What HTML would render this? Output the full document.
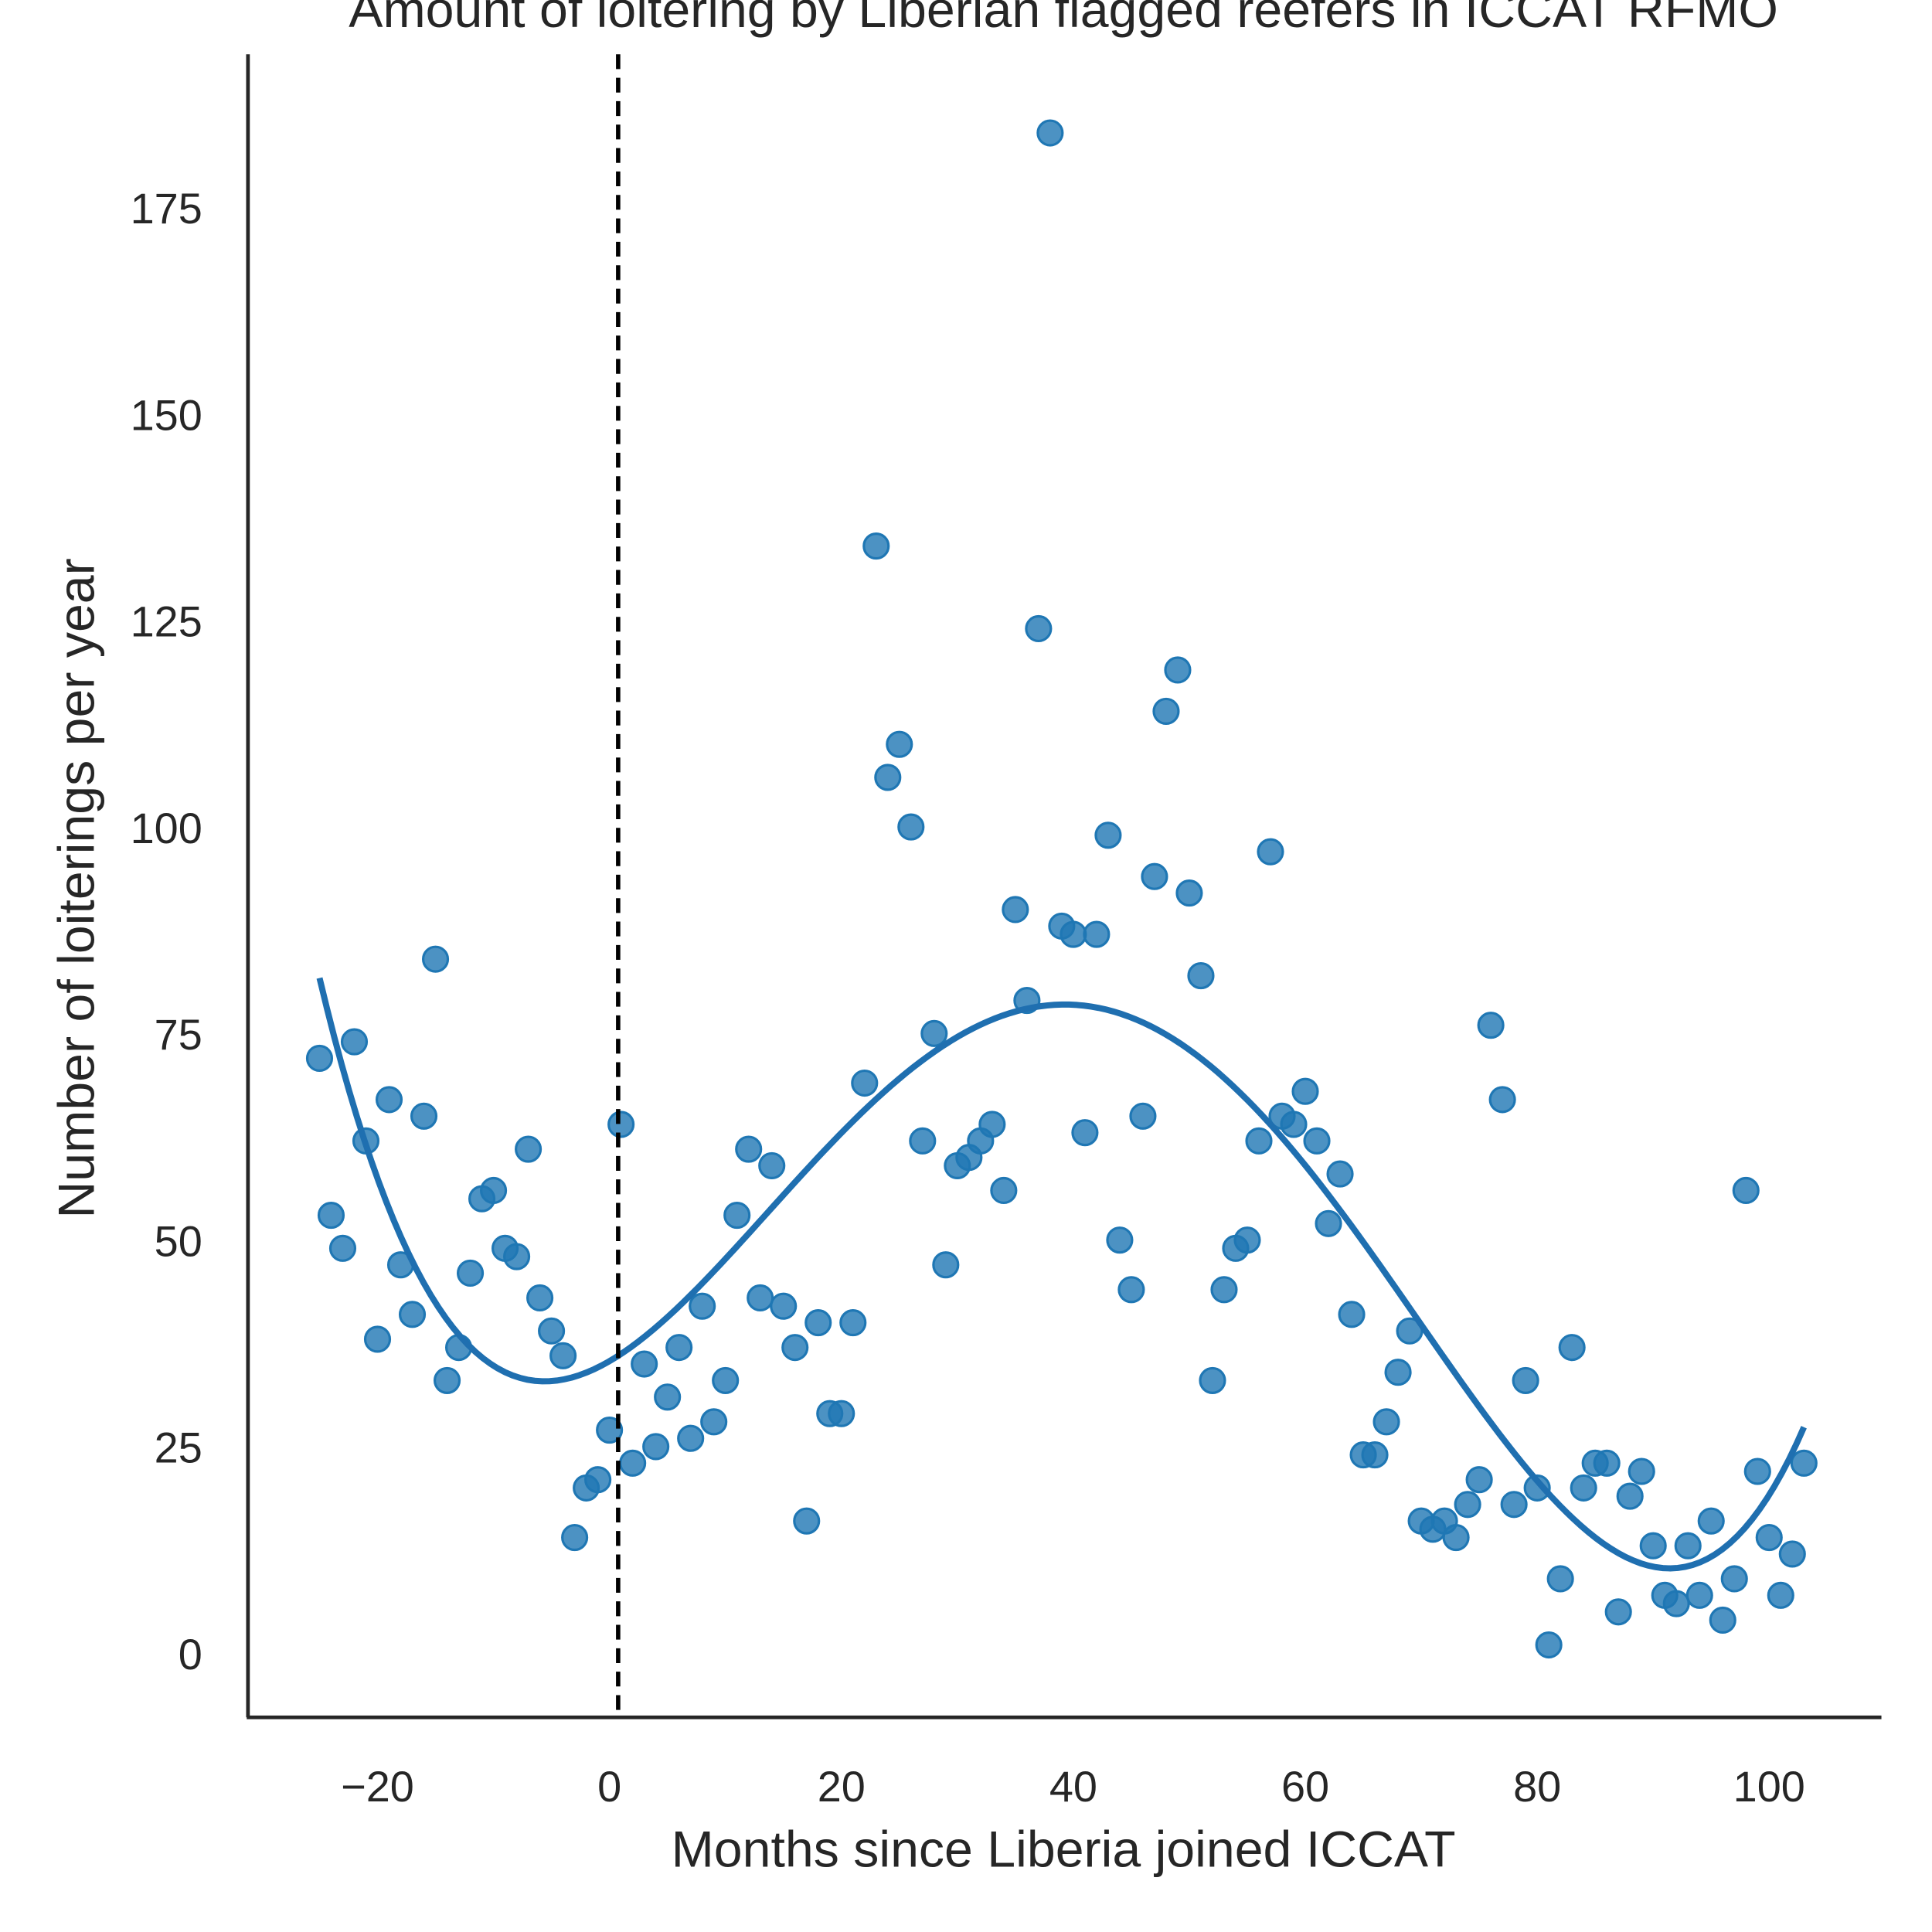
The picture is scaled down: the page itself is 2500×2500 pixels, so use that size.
<!DOCTYPE html>
<html><head><meta charset="utf-8"><style>html,body{margin:0;padding:0;background:#fff}svg{display:block}text{font-family:"Liberation Sans",sans-serif;fill:#262626}</style></head>
<body>
<svg id="chart" width="2500" height="2500" viewBox="0 0 1566 1566" xmlns="http://www.w3.org/2000/svg">
<text x="862" y="22" font-size="41.5" text-anchor="middle">Amount of loitering by Liberian flagged reefers in ICCAT RFMO</text>
<g id="marks"></g>
<line x1="201" y1="44" x2="201" y2="1392" stroke="#262626" stroke-width="3"/>
<line x1="200" y1="1392" x2="1525" y2="1392" stroke="#262626" stroke-width="3"/>
<text x="862" y="1513" font-size="41.5" text-anchor="middle">Months since Liberia joined ICCAT</text>
<text x="0" y="0" font-size="41.5" text-anchor="middle" transform="translate(76,720) rotate(-90)">Number of loiterings per year</text>
</svg>
<script>
const months = [];
for (let m = -25; m <= 103; m++) months.push(m);
const loiterings = [72,53,49,74,62,38,67,47,41,65,84,33,37,46,55,56,49,48,61,43,39,36,14,20,21,27,64,23,35,25,31,37,26,42,28,33,53,61,43,59,42,37,16,40,29,29,40,69,134,106,110,100,62,75,47,59,60,62,64,56,90,79,124,184,88,87,63,87,99,50,44,65,94,114,119,92,82,33,44,49,50,62,97,65,64,68,62,52,58,41,24,24,28,34,39,16,15,16,14,18,21,76,67,18,33,20,1,9,37,20,23,23,5,19,22,13,7,6,13,7,16,4,9,56,22,14,7,12,23];
const xTicks = [-20,0,20,40,60,80,100];
const yTicks = [0,25,50,75,100,125,150,175];
const joinMonth = 0.75;
const NS = "http://www.w3.org/2000/svg";
function xs(v){return 494 + 9.4*v;}
function ys(v){return 1340 - 6.697*v;}
const g = document.getElementById('marks');
const svg = document.getElementById('chart');
function mk(tag, attrs, parent){const e=document.createElementNS(NS,tag);for(const k in attrs)e.setAttribute(k,attrs[k]);(parent||g).appendChild(e);return e;}
xTicks.forEach(t=>{
  const e=mk('text',{x:xs(t),y:1460,'font-size':35,'text-anchor':'middle'},svg);
  
  
  e.textContent = t<0 ? '\u2212'+Math.abs(t) : String(t);
});
yTicks.forEach(t=>{
  const e=mk('text',{x:164,y:ys(t)+13,'font-size':35,'text-anchor':'end'},svg);
  
  
  e.textContent = String(t);
});
months.forEach((m,i)=>{
  const c=mk('circle',{cx:xs(m),cy:ys(loiterings[i]),r:10,fill:'#1f77b4','fill-opacity':0.8,stroke:'#1f77b4','stroke-width':2});
  
  
});
const deg=4, n=months.length;
const mu=39, sc=64;
const A=[];for(let i=0;i<=deg;i++){A.push(new Array(deg+2).fill(0));}
for(let k=0;k<n;k++){const u=(months[k]-mu)/sc;for(let i=0;i<=deg;i++){for(let j=0;j<=deg;j++)A[i][j]+=Math.pow(u,i+j);A[i][deg+1]+=Math.pow(u,i)*loiterings[k];}}
for(let i=0;i<=deg;i++){let p=i;for(let r=i+1;r<=deg;r++)if(Math.abs(A[r][i])>Math.abs(A[p][i]))p=r;[A[i],A[p]]=[A[p],A[i]];for(let r=0;r<=deg;r++){if(r===i)continue;const f=A[r][i]/A[i][i];for(let c=i;c<=deg+1;c++)A[r][c]-=f*A[i][c];}}
const coef=A.map((row,i)=>row[deg+1]/row[i]);
function poly(x){const u=(x-mu)/sc;let s=0;for(let i=0;i<=deg;i++)s+=coef[i]*Math.pow(u,i);return s;}
let d='';const x0=months[0],x1=months[n-1];
for(let i=0;i<=200;i++){const x=x0+(x1-x0)*i/200;d+=(i?'L':'M')+xs(x).toFixed(2)+','+ys(poly(x)).toFixed(2);}
const fit=mk('path',{d:d,fill:'none',stroke:'#1f6fb0','stroke-width':5});


const vl=mk('line',{x1:xs(joinMonth),x2:xs(joinMonth),y1:44,y2:1392,stroke:'#000','stroke-width':3.5,'stroke-dasharray':'12,7'});


</script>
</body></html>
